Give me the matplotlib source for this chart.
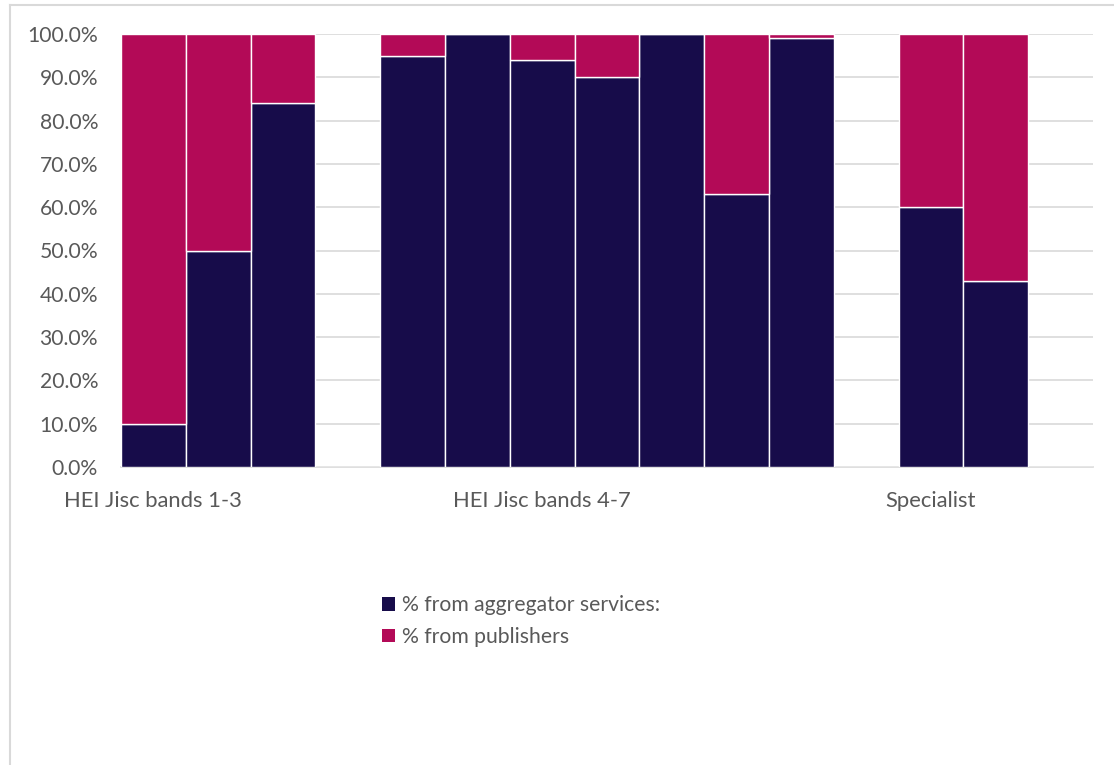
import matplotlib.pyplot as plt
import matplotlib.patches as mpatches
import numpy as np

plt.rcParams['font.family'] = ['Lato', 'DejaVu Sans']

# 15 category slots; empty slots separate the three groups
tick_labels = ["HEI Jisc bands 1-3", "", "", "", "", "", "HEI Jisc bands 4-7",
               "", "", "", "", "", "Specialist", "", ""]
aggregator = [10, 50, 84, 0, 95, 100, 94, 90, 100, 63, 99, 0, 60, 43, 0]
publishers = [90, 50, 16, 0, 5, 0, 6, 10, 0, 37, 1, 0, 40, 57, 0]
series_names = ["% from aggregator services:", "% from publishers"]
colors = ["#170c4a", "#b30a57"]

fig = plt.figure(figsize=(11.14, 7.65), dpi=100)
ax = fig.add_axes([121 / 1114, 1 - 467 / 765, (1093 - 121) / 1114, (467 - 34) / 765])

x = np.arange(len(tick_labels))
agg = np.array(aggregator)
pub = np.array(publishers)
ax.bar(x, agg, width=1.0, color=colors[0], edgecolor='white', linewidth=1.0, zorder=3)
ax.bar(x, pub, bottom=agg, width=1.0, color=colors[1], edgecolor='white', linewidth=1.0, zorder=3)

ax.set_xlim(-0.5, len(tick_labels) - 0.5)
ax.set_ylim(0, 100)
ax.set_yticks(np.arange(0, 101, 10))
ax.set_yticklabels([f"{v:.1f}%" for v in range(0, 101, 10)])
ax.set_xticks(x)
ax.set_xticklabels(tick_labels)
ax.tick_params(axis='both', length=0, colors='#595959')
ax.tick_params(axis='y', pad=16.5, labelsize=15.2)
ax.tick_params(axis='x', pad=17, labelsize=15.8)
ax.yaxis.grid(True, color='#d9d9d9', linewidth=1.2, zorder=0)
for s in ['top', 'right', 'left']:
    ax.spines[s].set_visible(False)
ax.spines['bottom'].set_color('#d9d9d9')
ax.spines['bottom'].set_linewidth(1.2)

handles = [mpatches.Patch(facecolor=c, label=n) for c, n in zip(colors, series_names)]
fig.legend(handles=handles, loc='center left', bbox_to_anchor=(363 / 1114, 1 - 621 / 765),
           frameon=False, fontsize=15.2, handlelength=0.62, handleheight=0.62,
           handletextpad=0.35, labelspacing=0.55, labelcolor='#595959')

# chart area border (cut off at right and bottom)
fig.add_artist(plt.Line2D([10 / 1114, 10 / 1114], [0, 1 - 5 / 765], color='#d9d9d9', lw=1.5))
fig.add_artist(plt.Line2D([10 / 1114, 1], [1 - 5 / 765, 1 - 5 / 765], color='#d9d9d9', lw=1.5))

fig.savefig("out.png", dpi=100)
